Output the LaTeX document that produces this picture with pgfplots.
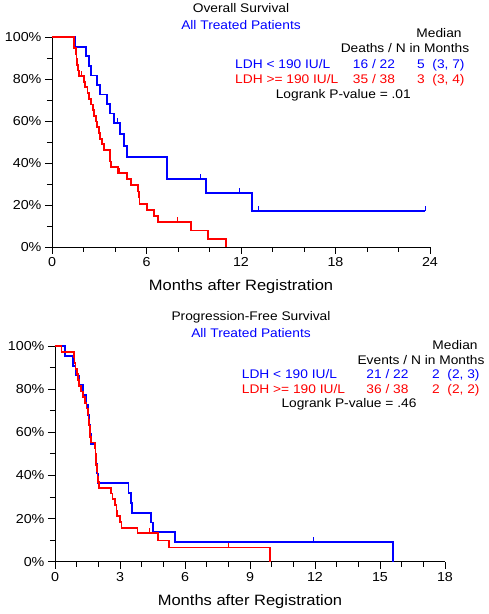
\documentclass[border=0pt]{standalone}
\usepackage{fontspec}
\setmainfont{Liberation Sans}[FakeStretch=1.1]
\usepackage{pgfplots}
\pgfplotsset{compat=1.18}
\pgfdeclareplotmark{cens}{\pgfpathmoveto{\pgfqpoint{0pt}{0pt}}\pgfpathlineto{\pgfqpoint{0pt}{5pt}}\pgfusepathqstroke}
\pgfplotsset{km/.style={
  scale only axis, clip=false,
  axis x line*=bottom, axis y line*=left,
  axis line style={line width=0.9pt, -},
  tick style={black, line width=0.9pt},
  tick align=outside,
  major tick length=7pt, minor tick length=5pt,
  ymin=0, ymax=100,
  ytick={0,20,40,60,80,100},
  yticklabels={0\%,20\%,40\%,60\%,80\%,100\%},
  minor ytick={10,30,50,70,90},
  ticklabel style={font=\fontsize{13}{15}\selectfont},
  /pgf/number format/assume math mode=true,
  xlabel={Months after Registration},
  xlabel style={font=\fontsize{15}{17}\selectfont, at={(rel axis cs:0.5,0)}, anchor=base, yshift=-44pt},
  every axis plot/.append style={line width=1.8pt, line join=miter},
}}
\begin{document}
\begin{tikzpicture}
\useasboundingbox (0,0) rectangle (488pt,614pt);
% ---------- Overall survival ----------
\begin{axis}[km, at={(52pt,367pt)}, anchor=south west, width=378pt, height=209.7pt,
  xmin=0, xmax=24, xtick={0,6,12,18,24}, minor xtick={2,4,8,10,14,16,20,22}]
\addplot[blue, const plot, mark=none] coordinates {
(0,100) (1.46,95.45) (2.14,90.91) (2.37,86.36) (2.46,81.82) (2.84,77.27) (3.05,72.73)
(3.47,68.18) (3.68,63.64) (3.92,59.09) (4.32,53.72) (4.57,48.35) (4.78,42.98)
(7.28,32.24) (9.76,25.79) (12.72,17.19) (23.7,17.19)};
\addplot[blue, only marks, mark=cens, mark options={line width=1.2pt}] coordinates {
(4.15,59.09) (9.42,32.24) (11.9,25.79) (13.1,17.19) (23.7,17.19)};
\addplot[red, const plot, mark=none] coordinates {
(0,100) (1.40,94.74) (1.50,92.11) (1.55,89.47) (1.60,86.84) (1.65,84.21) (1.71,81.58)
(2.01,78.86) (2.09,76.14) (2.26,73.42) (2.37,70.70) (2.48,67.98) (2.58,65.26) (2.69,62.54)
(2.79,59.82) (2.88,57.10) (2.98,54.38) (3.07,51.66) (3.17,48.94) (3.28,46.22) (3.68,40.78)
(3.77,38.06) (4.21,35.34) (4.74,32.40) (5.00,29.45) (5.44,26.51) (5.50,23.56) (5.56,20.62)
(6.02,17.67) (6.49,14.73) (6.75,11.78) (8.82,7.85) (9.93,3.93) (11.05,0)};
\addplot[red, only marks, mark=cens, mark options={line width=1.2pt}] coordinates {
(1.88,81.58) (4.30,35.34) (7.96,11.78)};
\end{axis}
% ---------- Progression-free survival ----------
\begin{axis}[km, at={(55pt,52.3pt)}, anchor=south west, width=390pt, height=215.7pt,
  xmin=0, xmax=18, xtick={0,3,6,9,12,15,18}, minor xtick={1,2,4,5,7,8,10,11,13,14,16,17}]
\addplot[blue, const plot, mark=none] coordinates {
(0,100) (0.45,95.45) (0.83,90.91) (0.95,86.36) (1.10,81.82) (1.30,77.27) (1.45,72.73)
(1.53,68.18) (1.58,63.64) (1.62,59.09) (1.66,54.55) (1.87,50.0) (1.91,45.45) (1.95,40.91)
(2.0,36.36) (3.39,31.82) (3.49,27.27) (3.57,22.73) (4.42,18.18) (4.53,13.64) (5.53,9.09) (15.6,0)};
\addplot[blue, only marks, mark=cens, mark options={line width=1.2pt}] coordinates {(11.93,9.09)};
\addplot[red, const plot, mark=none] coordinates {
(0,100) (0.30,97.37) (0.88,94.74) (0.90,92.11) (0.95,89.47) (1.00,86.84) (1.05,84.21)
(1.12,81.58) (1.20,78.95) (1.30,76.32) (1.40,73.68) (1.45,71.05) (1.52,68.42) (1.55,65.79)
(1.58,63.16) (1.60,60.53) (1.63,57.89) (1.66,55.26) (1.85,52.63) (1.87,50.0) (1.88,47.37)
(1.90,44.74) (1.93,42.11) (1.96,39.47) (1.98,36.84) (2.02,34.21) (2.57,31.58) (2.65,28.95)
(2.78,26.32) (2.84,23.68) (2.88,21.05) (3.00,18.42) (3.07,15.79) (3.81,13.16) (4.76,9.87)
(5.27,6.58) (9.93,0)};
\addplot[red, only marks, mark=cens, mark options={line width=1.2pt}] coordinates {
(4.35,13.16) (7.99,6.58)};
\end{axis}
% ---------- texts ----------
\begin{scope}[every node/.style={inner sep=0pt, font=\fontsize{12.5}{14}\selectfont}]
\node[anchor=base] at (241pt,601.3pt) {Overall Survival};
\node[anchor=base, text=blue] at (241pt,584.7pt) {All Treated Patients};
\node[anchor=base] at (439pt,576.7pt) {Median};
\node[anchor=base] at (405pt,561.3pt) {Deaths / N in Months};
\node[anchor=base west, text=blue] at (235pt,545pt) {LDH < 190 IU/L};
\node[anchor=base, text=blue] at (374pt,545pt) {16 / 22};
\node[anchor=base west, text=blue] at (417pt,545pt) {5\ \ (3, 7)};
\node[anchor=base west, text=red] at (235pt,530.7pt) {LDH >= 190 IU/L};
\node[anchor=base, text=red] at (374pt,530.7pt) {35 / 38};
\node[anchor=base west, text=red] at (417pt,530.7pt) {3\ \ (3, 4)};
\node[anchor=base] at (343.3pt,515pt) {Logrank P-value = .01};
\node[anchor=base] at (251pt,293.3pt) {Progression-Free Survival};
\node[anchor=base, text=blue] at (251pt,276.3pt) {All Treated Patients};
\node[anchor=base] at (455pt,264.7pt) {Median};
\node[anchor=base] at (421pt,249.7pt) {Events / N in Months};
\node[anchor=base west, text=blue] at (241.7pt,235pt) {LDH < 190 IU/L};
\node[anchor=base, text=blue] at (387.5pt,235pt) {21 / 22};
\node[anchor=base west, text=blue] at (432pt,235pt) {2\ \ (2, 3)};
\node[anchor=base west, text=red] at (241.7pt,220pt) {LDH >= 190 IU/L};
\node[anchor=base, text=red] at (387.5pt,220pt) {36 / 38};
\node[anchor=base west, text=red] at (432pt,220pt) {2\ \ (2, 2)};
\node[anchor=base] at (349pt,206pt) {Logrank P-value = .46};
\end{scope}
\end{tikzpicture}
\end{document}
